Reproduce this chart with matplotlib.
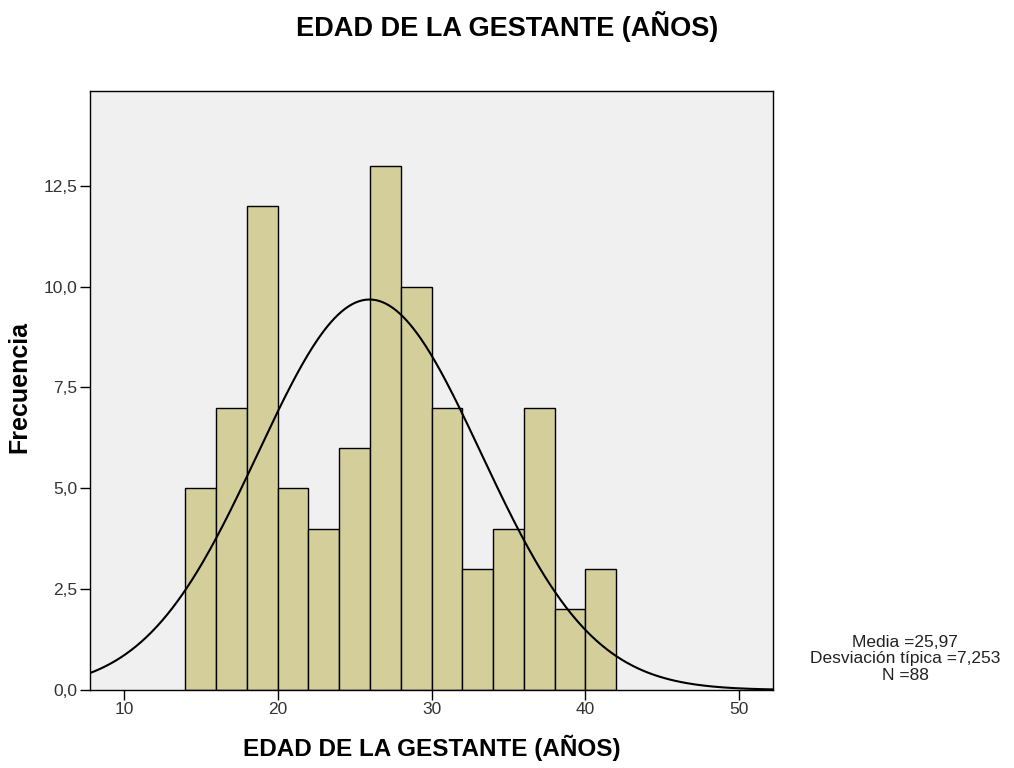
import numpy as np
import matplotlib.pyplot as plt

plt.rcParams['font.family'] = ['Liberation Sans', 'DejaVu Sans']

# histograma de la edad (intervalos de 2 años)
bin_left = [14, 16, 18, 20, 22, 24, 26, 28, 30, 32, 34, 36, 38, 40]
counts = [5, 7, 12, 5, 4, 6, 13, 10, 7, 3, 4, 7, 2, 3]
bin_width = 2

media = 25.97
desv = 7.253
n = 88

x_ticks = [10, 20, 30, 40, 50]
y_ticks = [0.0, 2.5, 5.0, 7.5, 10.0, 12.5]

fig = plt.figure(figsize=(10.14, 7.68), dpi=100)
ax = fig.add_axes([0.0888, 0.1016, 0.6735, 0.7799])
ax.set_facecolor('#f0f0f0')

ax.bar(bin_left, counts, width=bin_width, align='edge',
       color='#d4cf9a', edgecolor='black', linewidth=1.0, zorder=2)

# curva normal ajustada
xs = np.linspace(7.8, 52.2, 400)
ys = n * bin_width / (desv * np.sqrt(2 * np.pi)) * np.exp(-0.5 * ((xs - media) / desv) ** 2)
ax.plot(xs, ys, color='black', linewidth=1.5, zorder=3)

ax.set_xlim(7.8, 52.2)
ax.set_ylim(0, 14.85)
ax.set_xticks(x_ticks)
ax.set_yticks(y_ticks)
ax.set_yticklabels([f'{v:.1f}'.replace('.', ',') for v in y_ticks])
ax.tick_params(axis='both', direction='out', length=7, width=1, pad=2,
               labelsize=12.5, labelcolor='#333333')
for s in ax.spines.values():
    s.set_linewidth(1.0)
    s.set_color('black')

ax.set_xlabel('EDAD DE LA GESTANTE (AÑOS)', fontsize=17.5, fontweight='bold')
ax.xaxis.set_label_coords(0.5, -0.075)
ax.set_ylabel('Frecuencia', fontsize=18, fontweight='bold', va='center')
ax.yaxis.set_label_coords(-0.103, 0.506)
fig.text(0.5, 0.966, 'EDAD DE LA GESTANTE (AÑOS)', ha='center', va='center',
         fontsize=19.5, fontweight='bold')

fig.text(0.8925, 0.142, 'Media =25,97\nDesviación típica =7,253\nN =88',
         ha='center', va='center', fontsize=12.5, linespacing=1.1, color='#222222')

plt.savefig('out.png', dpi=100)
